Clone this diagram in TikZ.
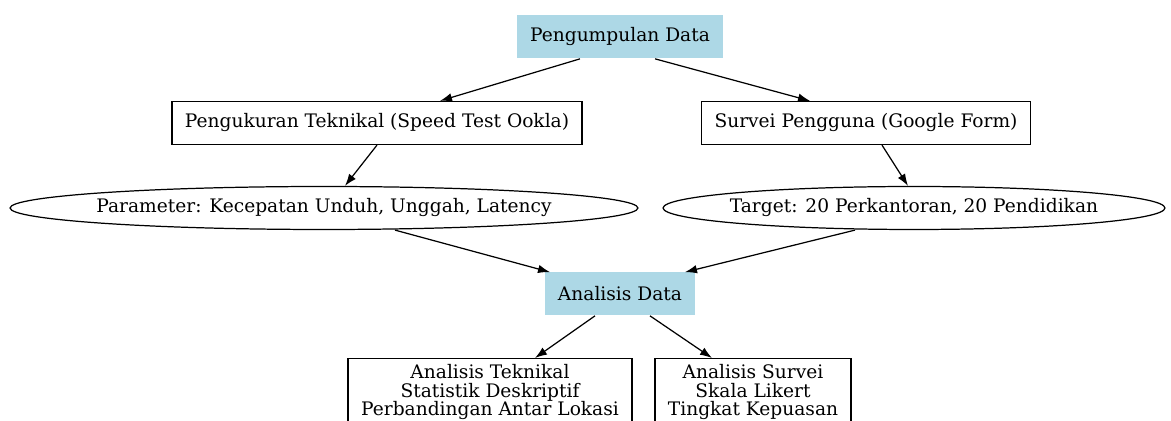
\documentclass[tikz,border=0pt]{standalone}
\usepackage{fontspec}
\setmainfont{DejaVu Serif}
\usepackage{xcolor}
\usepackage{tikz}
\usetikzlibrary{shapes.geometric,arrows.meta}
\definecolor{gvblue}{RGB}{173,216,230}
\tikzstyle{block} = [rectangle, draw, line width=0.7pt, minimum height=0.86cm, inner xsep=0.26cm, text centered]
\tikzstyle{stage} = [rectangle, fill=gvblue, minimum height=0.86cm, inner xsep=0.26cm, text centered]
\tikzstyle{oval} = [ellipse, draw, line width=0.7pt, minimum height=0.86cm, inner sep=0pt]
\tikzstyle{line} = [draw, line width=0.7pt, -{Latex[length=0.24cm,width=0.17cm]}]

\begin{document}
\begin{tikzpicture}[x=0.02cm, y=-0.02cm, font=\fontsize{10.6}{10.4}\selectfont]
\useasboundingbox (0,0) rectangle (1171,421);
\node [stage] (collect) at (620,37) {Pengumpulan Data};
\node [block] (measure) at (377,123) {Pengukuran Teknikal (Speed Test Ookla)};
\node [block] (survey) at (866,123) {Survei Pengguna (Google Form)};
\node [oval, minimum width=12.56cm] (param) at (324,208) {\makebox[0pt]{Parameter: Kecepatan Unduh, Unggah, Latency}};
\node [oval, minimum width=10.04cm] (target) at (914,208) {\makebox[0pt]{Target: 20 Perkantoran, 20 Pendidikan}};
\node [stage] (analysis) at (620,294) {Analisis Data};
\node [block, anchor=north, align=center, inner ysep=0.12cm] (tech) at (490,358) {Analisis Teknikal\\Statistik Deskriptif\\Perbandingan Antar Lokasi};
\node [block, anchor=north, align=center, inner ysep=0.12cm] (poll) at (753,358) {Analisis Survei\\Skala Likert\\Tingkat Kepuasan};
% Draw the edges
\path [line] ([xshift=-0.8cm]collect.south) -- ([xshift=1.26cm]measure.north);
\path [line] ([xshift=0.7cm]collect.south) -- ([xshift=-1.12cm]survey.north);
\path [line] (measure.south) -- ([xshift=0.42cm]param.north);
\path [line] ([xshift=0.32cm]survey.south) -- ([xshift=-0.12cm]target.north);
\path [line] ([xshift=1.42cm]param.south) -- ([xshift=-1.4cm]analysis.north);
\path [line] ([xshift=-1.18cm]target.south) -- ([xshift=1.3cm]analysis.north);
\path [line] ([xshift=-0.5cm]analysis.south) -- ([xshift=0.9cm]tech.north);
\path [line] ([xshift=0.6cm]analysis.south) -- ([xshift=-0.82cm]poll.north);
\end{tikzpicture}
\end{document}
